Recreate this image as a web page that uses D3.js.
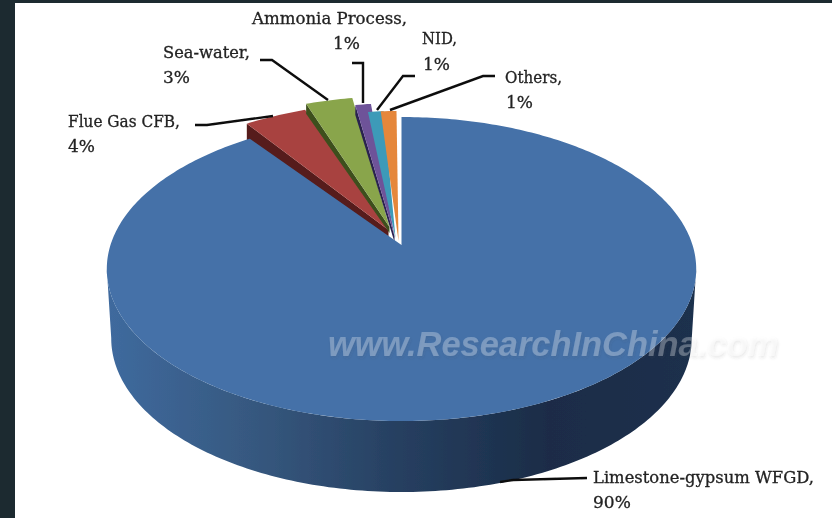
<!DOCTYPE html>
<html>
<head>
<meta charset="utf-8">
<script src="https://cdn.jsdelivr.net/npm/d3@7"></script>
<style>
  html, body { margin: 0; padding: 0; background: #1c2a30; overflow: hidden; }
  svg { display: block; }
</style>
</head>
<body>
<div id="chart"></div>
<script>
// values, clockwise from 12 o'clock
const names = ["Limestone-gypsum WFGD,", "Flue Gas CFB,", "Sea-water,", "Ammonia Process,", "NID,", "Others,"];
const shares = [90, 4, 3, 1, 1, 1];
const shareLabels = ["90%", "4%", "3%", "1%", "1%", "1%"];

const width = 832, height = 518;
const colors = ["#4471a8", "#a84340", "#89a54b", "#6e5399", "#3d9ab8", "#e5873b"];
const wallColors = ["#1c2f4c", "#571b1a", "#3d4f1f", "#2a2250", "#3d9ab8", "#e5873b"];
const wallDepth = [0, 20, 10, 10, 0, 0];

// how far each slice is pulled out: [rim dx, rim dy, tip dx, tip dy]
const pull = [[0, 0, 0, 0], [-3, -15, -13, -15], [-2, -21, -12, -18], [1, -14, -7, -9], [-2, -6, -6, -7], [-5, -6, -3, -4]];

// label layout: [x, y of first line, x of second line, y of second line]
const labelPos = [[593, 483, 593, 508], [68, 127, 68, 152], [163, 58, 163, 83], [252, 24, 333, 49], [422, 44, 423, 70], [505, 83, 506, 108]];
const labelWidth = [221, 112, 87, 155, 35, 57];
const leaders = [
  [[587, 478], [513, 480], [500, 482]],
  [[195, 125], [207, 125], [273, 116]],
  [[260, 60], [272, 60], [328, 100]],
  [[352, 63], [363, 63], [363, 103]],
  [[415, 76], [403, 76], [377, 110]],
  [[495, 76], [483, 76], [390, 110]]
];

var svg = d3.select("#chart").append("svg")
  .attr("width", width)
  .attr("height", height)
  .attr("viewBox", [0, 0, width, height]);

var defs = svg.append("defs");

var sideGrad = defs.append("linearGradient")
  .attr("id", "side")
  .attr("gradientUnits", "userSpaceOnUse")
  .attr("x1", 107).attr("x2", 697).attr("y1", 0).attr("y2", 0);
[[0, "#3f6a9e"], [0.25, "#36587f"], [0.5, "#263f60"], [0.75, "#1a2c47"], [1, "#1d304d"]].forEach(function(s) {
  sideGrad.append("stop").attr("offset", s[0]).attr("stop-color", s[1]);
});

defs.append("filter").attr("id", "soft")
  .append("feGaussianBlur").attr("stdDeviation", 0.55);
defs.append("filter").attr("id", "softText")
  .append("feGaussianBlur").attr("stdDeviation", 0.7);

var markShadow = defs.append("filter").attr("id", "markShadow")
  .attr("x", "-5%").attr("y", "-30%").attr("width", "110%").attr("height", "170%");
markShadow.append("feDropShadow")
  .attr("dx", 1).attr("dy", 2).attr("stdDeviation", 1.4)
  .attr("flood-color", "#444").attr("flood-opacity", 0.4);

// white page inside the dark frame
svg.append("rect")
  .attr("x", 15).attr("y", 3)
  .attr("width", width - 15).attr("height", height - 3)
  .attr("fill", "#fff");

var g = svg.append("g").attr("filter", "url(#soft)");

// perspective of the pie plane, a circle seen from above
const cx = 401.5, R = 291, persp = -0.158, yNear = 109.5, yMid = 245;

function project(angle, r) {
  var u = r * Math.sin(angle), v = -r * Math.cos(angle);
  var w = 1 + persp * v;
  return [cx + R * u / w, (yNear * v + yMid) / w];
}
function projectBottom(angle) {
  var p = project(angle, 1);
  var v = -Math.cos(angle);
  return [cx + (p[0] - cx) * 0.985, p[1] + 71 - (1 - v) * 2];
}

const line = d3.line();
const slices = d3.pie().sort(null)(shares);

function rimAngles(a0, a1) {
  var n = Math.max(4, Math.ceil((a1 - a0) * 60));
  return d3.range(n + 1).map(i => a0 + (a1 - a0) * i / n);
}

function pulled(angle, i) {
  var p = project(angle, 1);
  return [p[0] + pull[i][0], p[1] + pull[i][1]];
}
function tip(i) {
  var p = project(0, 0);
  return [p[0] + pull[i][2], p[1] + pull[i][3]];
}

// the side of the big slice goes first, it sits behind everything
var sideAngles = rimAngles(Math.PI * 0.55, Math.PI * 1.45);
g.append("path")
  .attr("d", line(sideAngles.map(a => project(a, 1)).concat(sideAngles.slice().reverse().map(projectBottom))) + "Z")
  .attr("fill", "url(#side)");

// pulled slices, left one first so each sits on the one before
slices.slice(1).forEach(function(d, k) {
  var i = k + 1;
  var outer = rimAngles(d.startAngle, d.endAngle).map(a => pulled(a, i));
  var t = tip(i);
  if (wallDepth[i] > 0) {
    var a = outer[0];
    g.append("path")
      .attr("d", line([a, [a[0], a[1] + wallDepth[i]], [t[0], t[1] + wallDepth[i] * 0.6], t]) + "Z")
      .attr("fill", wallColors[i]);
  }
  g.append("path")
    .attr("d", line([t].concat(outer)) + "Z")
    .attr("fill", colors[i]);
});

// top of the big slice
var big = slices[0];
g.append("path")
  .attr("d", line([project(0, 0)].concat(rimAngles(big.startAngle, big.endAngle).map(a => project(a, 1)))) + "Z")
  .attr("fill", colors[0]);

// watermark
svg.append("g").attr("filter", "url(#soft)")
  .append("text")
  .attr("x", 328).attr("y", 356)
  .attr("font-family", "Liberation Sans")
  .attr("font-weight", "bold")
  .attr("font-style", "italic")
  .attr("font-size", 35)
  .attr("textLength", 450)
  .attr("lengthAdjust", "spacingAndGlyphs")
  .attr("fill", "#fff")
  .attr("fill-opacity", 0.28)
  .attr("filter", "url(#markShadow)")
  .text("www.ResearchInChina.com");

// leader lines
g.selectAll("path.leader")
  .data(leaders)
  .join("path")
  .attr("class", "leader")
  .attr("d", d => line(d))
  .attr("fill", "none")
  .attr("stroke", "#111")
  .attr("stroke-width", 2.4);

// labels
var labels = svg.append("g").attr("filter", "url(#softText)")
  .selectAll("g.label")
  .data(names)
  .join("g")
  .attr("class", "label")
  .attr("font-family", "DejaVu Serif")
  .attr("fill", "#222")
  .attr("stroke", "#222")
  .attr("stroke-width", 0.3);

labels.append("text")
  .attr("x", (d, i) => labelPos[i][0])
  .attr("y", (d, i) => labelPos[i][1])
  .attr("font-size", 16.2)
  .attr("textLength", (d, i) => labelWidth[i])
  .attr("lengthAdjust", "spacingAndGlyphs")
  .text(d => d);

labels.append("text")
  .attr("x", (d, i) => labelPos[i][2])
  .attr("y", (d, i) => labelPos[i][3])
  .attr("font-size", 17)
  .text((d, i) => shareLabels[i]);
</script>
</body>
</html>
